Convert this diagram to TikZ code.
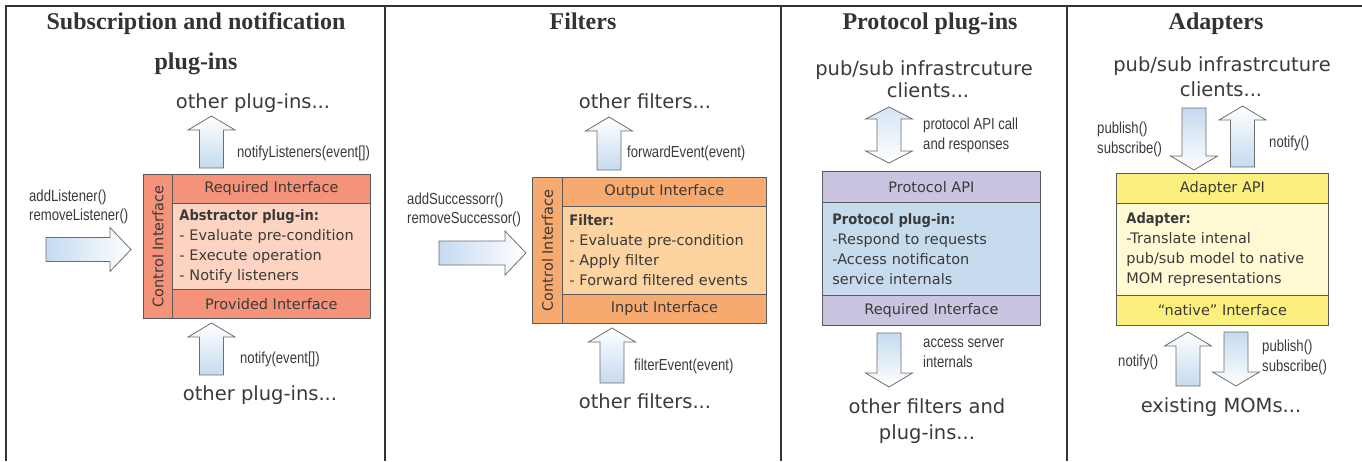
\documentclass[tikz,border=0pt]{standalone}
\usepackage{fontspec}
\setmainfont{Liberation Serif}
\newfontfamily\boxfont[BoldFeatures={FakeStretch=0.9}]{DejaVu Sans}
\newfontfamily\lblfont[FakeStretch=0.82]{Liberation Sans}
\definecolor{txt}{HTML}{3A3A3A}
\definecolor{framegray}{HTML}{333333}
\definecolor{boxline}{HTML}{5A5A5A}
\definecolor{arrline}{HTML}{6E6E6E}
\definecolor{arrowblue}{RGB}{197,218,240}
\definecolor{sal}{HTML}{F4937A}
\definecolor{sallight}{HTML}{FCD4C1}
\definecolor{ora}{HTML}{F7AA70}
\definecolor{oralight}{HTML}{FDD3A0}
\definecolor{lav}{HTML}{CBC4E0}
\definecolor{lavlight}{HTML}{C7DBEF}
\definecolor{yel}{HTML}{FBEF7E}
\definecolor{yellight}{HTML}{FFFAD4}
\tikzset{
  title/.style={font=\fontsize{24}{28}\selectfont\bfseries, text=framegray, anchor=base, inner sep=0pt},
  big/.style={font=\boxfont\fontsize{19.5}{25}\selectfont, text=txt, anchor=base, inner sep=0pt},
  lbl/.style={font=\lblfont\fontsize{16}{19}\selectfont, text=txt, anchor=base west, inner sep=0pt},
  part/.style={draw=boxline, line width=0.8pt, anchor=north west, inner sep=0pt, font=\boxfont\fontsize{14.5}{20}\selectfont, text=txt},
  body/.style={part, align=left, inner xsep=7pt},
  vert/.style={rotate=90, inner sep=0pt, font=\boxfont\fontsize{14.5}{20}\selectfont, text=txt},
  fatarrow/.style={draw=arrline, line width=0.8pt},
  frame/.style={draw=framegray, line width=2pt}
}
% block arrows: centre x, top y, bottom y (right: tail x, tip x, centre y)
\newcommand{\fatup}[3]{\shadedraw[fatarrow, top color=white, bottom color=arrowblue]
  (#1-12,#3) -- (#1-12,#2+14) -- (#1-23.5,#2+14) -- (#1,#2) -- (#1+23.5,#2+14) -- (#1+12,#2+14) -- (#1+12,#3) -- cycle;}
\newcommand{\fatdown}[3]{\shadedraw[fatarrow, top color=arrowblue, bottom color=white]
  (#1-12,#2) -- (#1-12,#3-14) -- (#1-23.5,#3-14) -- (#1,#3) -- (#1+23.5,#3-14) -- (#1+12,#3-14) -- (#1+12,#2) -- cycle;}
\newcommand{\fatboth}[3]{\shadedraw[fatarrow, top color=arrowblue!70, bottom color=white]
  (#1,#2) -- (#1+23.5,#2+12) -- (#1+12,#2+12) -- (#1+12,#3-12) -- (#1+23.5,#3-12) -- (#1,#3)
  -- (#1-23.5,#3-12) -- (#1-12,#3-12) -- (#1-12,#2+12) -- (#1-23.5,#2+12) -- cycle;}
\newcommand{\fatright}[3]{\shadedraw[fatarrow, left color=arrowblue, right color=white]
  (#1,#3-12) -- (#2-21,#3-12) -- (#2-21,#3-22) -- (#2,#3) -- (#2-21,#3+22) -- (#2-21,#3+12) -- (#1,#3+12) -- cycle;}
\begin{document}
\begin{tikzpicture}[x=1pt,y=-1pt]
\useasboundingbox (0,0) rectangle (1362,461);
% frame
\draw[frame] (6,461) -- (6,5.5) -- (1362,5.5);
\foreach \xx in {385,781,1067} \draw[frame] (\xx,5.5) -- (\xx,461);

% subscription and notification plug-ins
\node[title] (subtitle) at (196,29) {Subscription and notification};
\node[title] (subtitleb) at (196,69) {plug-ins};
\node[big] (subup) at (253,108) {other plug-ins...};
\fatup{211.5}{116}{168}
\node[lbl] (notl) at (237,157) {notifyListeners(event[])};
\node[lbl] (addl) at (29,201) {addListener()};
\node[lbl] (reml) at (29,220) {removeListener()};
\fatright{46}{131}{249.5}
\node[part, fill=sal, minimum width=29pt, minimum height=144pt] (subctl) at (143,174) {};
\node[vert] (subctltxt) at (subctl.center) {Control Interface};
\node[part, fill=sal, minimum width=198pt, minimum height=29pt] (subreq) at (172,174) {Required Interface};
\node[body, fill=sallight, minimum height=86pt, text width=184pt] (subbody) at (172,203)
  {\textbf{Abstractor plug-in:}\\- Evaluate pre-condition\\- Execute operation\\- Notify listeners};
\node[part, fill=sal, minimum width=198pt, minimum height=29pt] (subprov) at (172,289) {Provided Interface};
\fatup{211.5}{323}{375}
\node[lbl] (notf) at (240,363) {notify(event[])};
\node[big] (subdown) at (260,400) {other plug-ins...};

% filters
\node[title] (filtitle) at (583,29) {Filters};
\node[big] (filup) at (645,108) {other filters...};
\fatup{609}{117}{170}
\node[lbl] (fwd) at (627,157) {forwardEvent(event)};
\node[lbl] (adds) at (407,204) {addSuccessorr()};
\node[lbl] (rems) at (407,223) {removeSuccessor()};
\fatright{439}{526}{253}
\node[part, fill=ora, minimum width=30pt, minimum height=146pt] (filctl) at (532,177) {};
\node[vert] (filctltxt) at (filctl.center) {Control Interface};
\node[part, fill=ora, minimum width=204pt, minimum height=29pt] (filout) at (562,177) {Output Interface};
\node[body, fill=oralight, minimum height=88pt, text width=190pt] (filbody) at (562,206)
  {\textbf{Filter:}\\- Evaluate pre-condition\\- Apply filter\\- Forward filtered events};
\node[part, fill=ora, minimum width=204pt, minimum height=29pt] (filin) at (562,294) {Input Interface};
\fatup{612}{328}{383}
\node[lbl] (filev) at (634,370) {filterEvent(event)};
\node[big] (fildown) at (645,408) {other filters...};

% protocol plug-ins
\node[title] (prottitle) at (930,29) {Protocol plug-ins};
\node[big] (protcl) at (924,75) {pub/sub infrastrcuture};
\node[big] (protclb) at (928,97) {clients...};
\fatboth{889}{107}{163}
\node[lbl] (papi) at (923,129) {protocol API call};
\node[lbl] (papib) at (923,149) {and responses};
\node[part, fill=lav, minimum width=218pt, minimum height=31pt] (protapi) at (822,171) {Protocol API};
\node[body, fill=lavlight, inner xsep=10pt, minimum height=93pt, text width=198pt] (protbody) at (822,202)
  {\textbf{Protocol plug-in:}\\-Respond to requests\\-Access notificaton\\service internals};
\node[part, fill=lav, minimum width=218pt, minimum height=30pt] (protreq) at (822,295) {Required Interface};
\fatdown{889}{333}{387}
\node[lbl] (acc) at (923,347) {access server};
\node[lbl] (accb) at (923,367) {internals};
\node[big] (protdown) at (927,413) {other filters and};
\node[big] (protdownb) at (927,439) {plug-ins...};

% adapters
\node[title] (adtitle) at (1216,29) {Adapters};
\node[big] (adcl) at (1222,71) {pub/sub infrastrcuture};
\node[big] (adclb) at (1221,96) {clients...};
\fatdown{1194}{108}{170}
\fatup{1242.5}{106}{167}
\node[lbl] (pub1) at (1097,133) {publish()};
\node[lbl] (sub1) at (1097,153) {subscribe()};
\node[lbl] (not1) at (1269,147) {notify()};
\node[part, fill=yel, minimum width=212pt, minimum height=30pt] (adapi) at (1116,173) {Adapter API};
\node[body, fill=yellight, inner xsep=10pt, minimum height=92pt, text width=192pt] (adbody) at (1116,203)
  {\textbf{Adapter:}\\-Translate intenal\\pub/sub model to native\\MOM representations};
\node[part, fill=yel, minimum width=212pt, minimum height=30pt] (adnat) at (1116,295) {“native” Interface};
\fatup{1188}{332}{386}
\fatdown{1236}{332}{386}
\node[lbl] (not2) at (1118,366) {notify()};
\node[lbl] (pub2) at (1262,351) {publish()};
\node[lbl] (sub2) at (1262,371) {subscribe()};
\node[big] (exmom) at (1221,412) {existing MOMs...};
\end{tikzpicture}
\end{document}
